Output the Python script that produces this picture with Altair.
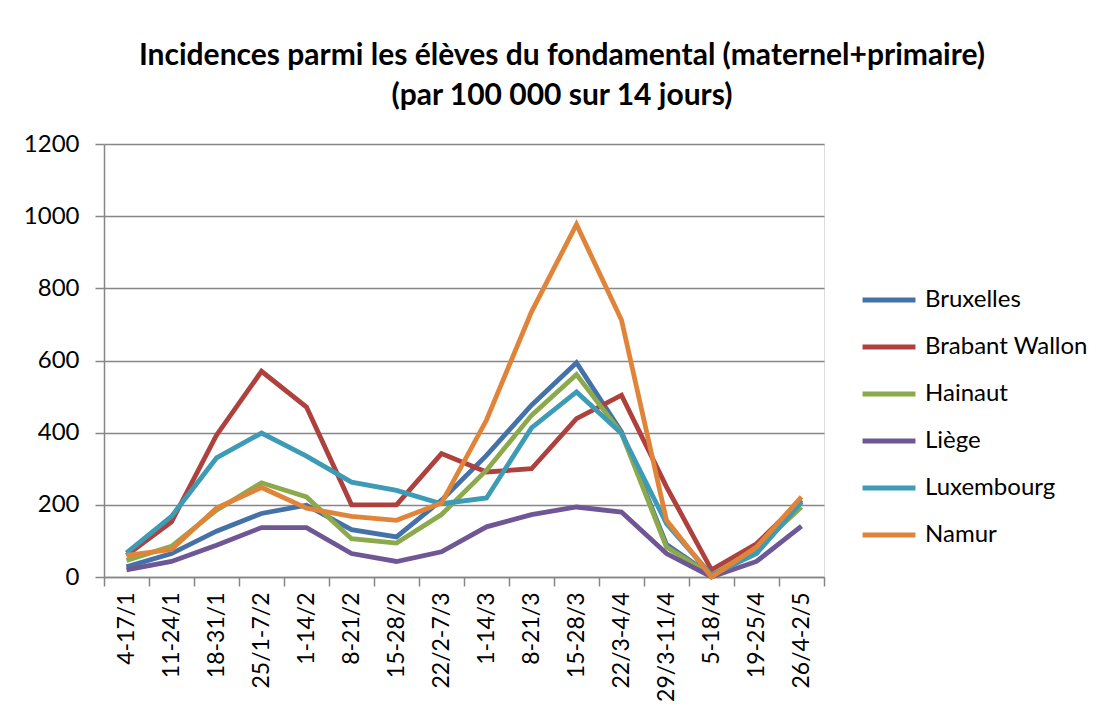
import altair as alt
import pandas as pd

periods = ["4-17/1", "11-24/1", "18-31/1", "25/1-7/2", "1-14/2", "8-21/2", "15-28/2",
           "22/2-7/3", "1-14/3", "8-21/3", "15-28/3", "22/3-4/4", "29/3-11/4",
           "5-18/4", "19-25/4", "26/4-2/5"]

bruxelles = [28, 65, 127, 176, 199, 131, 111, 213, 337, 476, 594, 402, 90, 5, 67, 208]
brabant_wallon = [60, 153, 393, 570, 471, 200, 200, 342, 291, 300, 439, 504, 250, 20, 92, 213]
hainaut = [46, 85, 185, 261, 222, 106, 94, 173, 296, 448, 561, 398, 83, 5, 79, 194]
liege = [20, 43, 88, 137, 137, 65, 43, 70, 139, 173, 194, 180, 65, 0, 43, 141]
luxembourg = [67, 168, 330, 399, 335, 263, 240, 203, 219, 413, 513, 398, 148, 5, 65, 208]
namur = [60, 76, 191, 248, 191, 168, 157, 205, 435, 735, 977, 712, 157, 0, 83, 222]

series_names = ["Bruxelles", "Brabant Wallon", "Hainaut", "Liège", "Luxembourg", "Namur"]
series_values = [bruxelles, brabant_wallon, hainaut, liege, luxembourg, namur]
series_colors = ["#4472A8", "#AE403D", "#8CAA4B", "#6F5694", "#3D9BB5", "#E0843A"]

rows = []
for name, vals in zip(series_names, series_values):
    for p, v in zip(periods, vals):
        rows.append({"period": p, "region": name, "value": v})
df = pd.DataFrame(rows)

FONT = "Lato"
GRID = "#868686"

chart = alt.Chart(df).mark_line(strokeWidth=4.8, strokeJoin="miter").encode(
    x=alt.X("period:N", sort=periods, title=None,
            scale=alt.Scale(paddingInner=0, paddingOuter=0),
            axis=alt.Axis(labelAngle=-90, labelFontSize=23, labelFont=FONT, labelColor="#000000",
                          tickBand="extent", tickSize=9, tickColor=GRID, tickWidth=1.5,
                          domainColor=GRID, domainWidth=1.5, labelPadding=6, labelLimit=300,
                          labelBaseline="middle", labelAlign="right", grid=False)),
    y=alt.Y("value:Q", title=None,
            scale=alt.Scale(domain=[0, 1200], nice=False),
            axis=alt.Axis(values=[0, 200, 400, 600, 800, 1000, 1200], format="d",
                          labelFontSize=24, labelFont=FONT, labelColor="#000000",
                          tickSize=9, tickColor=GRID, tickWidth=1.5, domainColor=GRID,
                          domainWidth=1.5, labelPadding=16,
                          grid=True, gridColor=GRID, gridWidth=1.5)),
    color=alt.Color("region:N", sort=series_names,
                    scale=alt.Scale(domain=series_names, range=series_colors),
                    legend=alt.Legend(title=None, orient="none", legendX=756, legendY=127,
                                      symbolType="stroke", symbolSize=2800, symbolStrokeWidth=5,
                                      labelFontSize=24, labelFont=FONT, labelColor="#000000",
                                      labelOffset=7, rowPadding=6, labelLimit=300)),
).properties(
    width=720,
    height=433,
    title=alt.TitleParams(
        text=["Incidences parmi les élèves du fondamental (maternel+primaire)",
              "(par 100 000 sur 14 jours)"],
        font=FONT, fontSize=30, fontWeight="bold", color="#000000",
        anchor="middle", dx=98, offset=21, lineHeight=40),
    autosize=alt.AutoSizeParams(type="none"),
    padding={"left": 96, "top": 136, "right": 270, "bottom": 128},
).configure_view(stroke=None).configure(background="#FFFFFF")

chart.save("out.html", embed_options={"renderer": "svg", "actions": False})
